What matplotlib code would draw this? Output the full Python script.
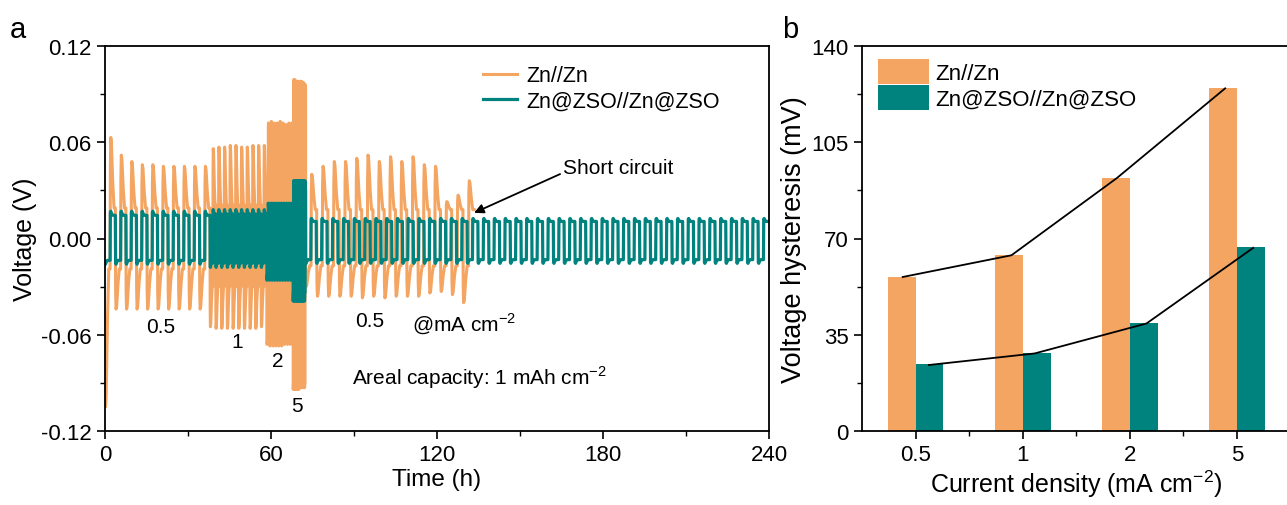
import numpy as np
import matplotlib.pyplot as plt

plt.rcParams['font.family'] = ['Liberation Sans', 'DejaVu Sans']
plt.rcParams['mathtext.fontset'] = 'custom'
plt.rcParams['mathtext.rm'] = 'Liberation Sans'

### Panel a: symmetric cell cycling
# current density segments (mA cm-2) and their time windows (h)
seg_current = ['0.5', '1', '2', '5', '0.5']
seg_start = [0.0, 38.0, 58.5, 68.0, 72.5]
seg_end = [38.0, 58.5, 68.0, 72.5, 240.0]

# Zn@ZSO//Zn@ZSO: cycles per segment, plateau voltages (V)
zso_cycles = [10, 10, 10, 11, 43]
zso_top = [0.017, 0.018, 0.022, 0.036, 0.0125]
zso_bot = [-0.016, -0.018, -0.026, -0.039, -0.0155]

# Zn//Zn: cycles per segment, last one stops at the short circuit
zn_short = 133.5
zn_cycles = [10, 10, 9, 11, 15]
zn_pos_peak = [
    [0.063, 0.052, 0.048, 0.046, 0.046, 0.045, 0.045, 0.045, 0.045, 0.045],
    [0.056, 0.057, 0.057, 0.058, 0.058, 0.057, 0.057, 0.058, 0.058, 0.058],
    [0.072, 0.073, 0.072, 0.072, 0.073, 0.072, 0.071, 0.072, 0.072],
    [0.099, 0.099, 0.098, 0.098, 0.098, 0.098, 0.098, 0.098, 0.097, 0.097, 0.096],
    [0.040, 0.045, 0.048, 0.048, 0.050, 0.052, 0.048, 0.051, 0.048, 0.051,
     0.046, 0.045, 0.023, 0.027, 0.036],
]
zn_neg_peak = [
    [-0.105, -0.044, -0.044, -0.044, -0.044, -0.044, -0.044, -0.044, -0.044, -0.044],
    [-0.055, -0.056, -0.056, -0.056, -0.056, -0.056, -0.056, -0.056, -0.056, -0.055],
    [-0.066, -0.067, -0.067, -0.067, -0.067, -0.067, -0.066, -0.066, -0.066],
    [-0.094, -0.094, -0.094, -0.094, -0.094, -0.094, -0.093, -0.093, -0.093, -0.093, -0.093],
    [-0.030, -0.036, -0.036, -0.036, -0.036, -0.037, -0.036, -0.037, -0.036, -0.036,
     -0.036, -0.034, -0.033, -0.035, -0.040],
]
zn_pos_plat = [0.019, 0.021, 0.066, 0.094, 0.018]
zn_neg_plat = [-0.019, -0.030, -0.062, -0.090, -0.017]

# annotations
rate_labels = ['0.5', '1', '2', '5', '0.5']
rate_t = [20.0, 47.7, 62.5, 69.4, 95.8]
rate_v = [-0.055, -0.064, -0.076, -0.104, -0.051]

### Panel b: voltage hysteresis
densities = ['0.5', '1', '2', '5']
zn_hyst = [56.1, 64.0, 91.9, 124.7]
zso_hyst = [24.3, 28.5, 39.3, 67.0]
# hand-drawn guide lines
zn_guide_x = [-0.12, 0.895, 1.88, 2.89]
zn_guide_y = [56.0, 63.9, 92.0, 124.6]
zso_guide_x = [0.124, 1.112, 2.156, 3.152]
zso_guide_y = [24.0, 28.2, 39.1, 66.6]

orange = '#F4A562'
teal = '#00837F'


def square_wave(t0, t1, n, neg_peak, neg_plat, pos_peak, pos_plat, shape):
    # each cycle: plating half (negative) then stripping half (positive),
    # a peak at the start of every half that relaxes to a plateau
    neg_peak = np.broadcast_to(neg_peak, (n,))
    pos_peak = np.broadcast_to(pos_peak, (n,))
    per = (t1 - t0) / n
    half = per / 2
    tt, vv = [], []
    for k in range(n):
        for start, pk, pl in ((t0 + k * per, neg_peak[k], neg_plat),
                              (t0 + k * per + half, pos_peak[k], pos_plat)):
            for f, r in shape:
                tt.append(start + f * half)
                vv.append(pl + r * (pk - pl))
    return tt, vv


zn_shape = [(0.02, 0.55), (0.10, 1.0), (0.22, 0.92), (0.48, 0.35), (0.72, 0.0), (0.97, 0.0)]
zso_shape = [(0.02, 0.8), (0.10, 1.0), (0.30, 0.2), (0.50, 0.0), (0.97, 0.0)]

fig = plt.figure(figsize=(12.87, 5.06), dpi=100)
ax1 = fig.add_axes([105 / 1287, 1 - 432 / 506, 664 / 1287, 385 / 506])
ax2 = fig.add_axes([862 / 1287, 1 - 432 / 506, 428.5 / 1287, 385 / 506])

# Zn//Zn
t_zn, v_zn = [], []
for i in range(5):
    t1 = zn_short if i == 4 else seg_end[i]
    tt, vv = square_wave(seg_start[i], t1, zn_cycles[i], zn_neg_peak[i], zn_neg_plat[i],
                         zn_pos_peak[i], zn_pos_plat[i], zn_shape)
    t_zn += tt
    v_zn += vv
ax1.plot(t_zn, v_zn, color=orange, lw=2.2, label='Zn//Zn')

# Zn@ZSO
t_zso, v_zso = [], []
for i in range(5):
    tt, vv = square_wave(seg_start[i], seg_end[i], zso_cycles[i], zso_bot[i], zso_bot[i] * 0.85,
                         zso_top[i], zso_top[i] * 0.85, zso_shape)
    t_zso += tt
    v_zso += vv
ax1.plot(t_zso, v_zso, color=teal, lw=2.3, label='Zn@ZSO//Zn@ZSO')

ax1.set_xlim(0, 240)
ax1.set_ylim(-0.12, 0.12)
ax1.set_xticks([0, 60, 120, 180, 240])
ax1.set_xticks([30, 90, 150, 210], minor=True)
ax1.set_yticks([-0.12, -0.06, 0.0, 0.06, 0.12])
ax1.set_yticks([-0.09, -0.03, 0.03, 0.09], minor=True)
ax1.set_yticklabels(['-0.12', '-0.06', '0.00', '0.06', '0.12'])
ax1.set_xlabel('Time (h)', fontsize=17.5, labelpad=2)
ax1.set_ylabel('Voltage (V)', fontsize=18, labelpad=3)

for lab, t, v in zip(rate_labels, rate_t, rate_v):
    ax1.text(t, v, lab, fontsize=15, ha='center', va='center')
ax1.text(111, -0.053, r'@mA cm$^{-2}$', fontsize=15, va='center')
ax1.text(89.3, -0.086, r'Areal capacity: 1 mAh cm$^{-2}$', fontsize=15, va='center')
ax1.annotate('Short circuit', xy=(133.4, 0.016), xytext=(165.5, 0.0445),
             fontsize=15, va='center',
             arrowprops=dict(arrowstyle='-|>', color='black', lw=1.3,
                             shrinkA=0, shrinkB=0, mutation_scale=14,
                             relpos=(0, 0.2)))
ax1.legend(loc='upper left', bbox_to_anchor=(0.54, 1.0), frameon=False, fontsize=15.5,
           handlelength=1.6, handletextpad=0.4, labelspacing=0.2)

# Panel b
x = np.arange(len(densities))
w = 0.26
ax2.bar(x - w / 2, zn_hyst, w, color=orange, label='Zn//Zn')
ax2.bar(x + w / 2, zso_hyst, w, color=teal, label='Zn@ZSO//Zn@ZSO')
ax2.plot(zn_guide_x, zn_guide_y, color='black', lw=1.3)
ax2.plot(zso_guide_x, zso_guide_y, color='black', lw=1.3)
ax2.set_xlim(-0.5, 3.5)
ax2.set_ylim(0, 140)
ax2.set_xticks(x)
ax2.set_xticklabels(densities)
ax2.set_xticks([0.5, 1.5, 2.5], minor=True)
ax2.set_yticks([0, 35, 70, 105, 140])
ax2.set_yticks([17.5, 52.5, 87.5, 122.5], minor=True)
ax2.set_xlabel(r'Current density (mA cm$^{-2}$)', fontsize=18, labelpad=2)
ax2.set_ylabel('Voltage hysteresis (mV)', fontsize=19.5, labelpad=3)
ax2.legend(loc='upper left', bbox_to_anchor=(-0.01, 1.018), frameon=False, fontsize=16,
           handlelength=2.3, handleheight=1.35, handletextpad=0.3, labelspacing=0.05)

for ax in (ax1, ax2):
    ax.tick_params(which='major', direction='out', length=6, width=1.2, labelsize=16)
    ax.tick_params(which='minor', direction='out', length=3.5, width=1.0)
    for s in ax.spines.values():
        s.set_linewidth(1.3)

fig.text(18 / 1287, 1 - 30 / 506, 'a', fontsize=21, ha='center', va='center')
fig.text(790 / 1287, 1 - 30 / 506, 'b', fontsize=21, ha='center', va='center')

fig.savefig('out.png', dpi=100)
